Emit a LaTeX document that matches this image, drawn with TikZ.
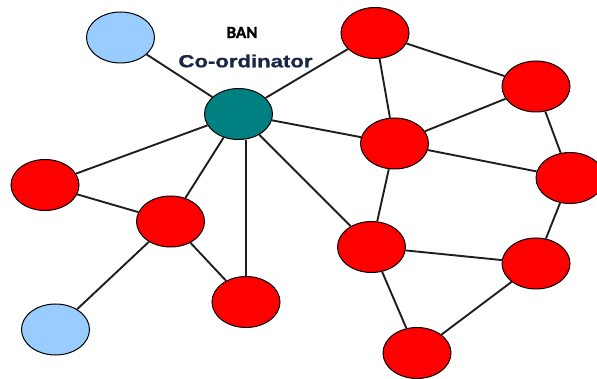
\documentclass[tikz,border=0pt]{standalone}
\usepackage{fontspec}
\usepackage{graphicx}
\setmainfont{Liberation Sans}
\newfontfamily\calfont{Carlito}[BoldFeatures={FakeBold=1.5}]
\newfontfamily\labelfont{Liberation Sans}[BoldFeatures={FakeBold=1}]
\usetikzlibrary{shapes.geometric}
\definecolor{nodered}{RGB}{255,0,0}
\definecolor{nodeblue}{RGB}{153,204,255}
\definecolor{nodeteal}{RGB}{0,128,128}
\definecolor{linkgray}{RGB}{30,30,30}
\definecolor{labelnavy}{RGB}{25,38,72}
\tikzset{
  sensor/.style={ellipse, draw=black, line width=1pt, inner sep=0pt,
    minimum width=68pt, minimum height=51pt},
  rednode/.style={sensor, fill=nodered},
  bluenode/.style={sensor, fill=nodeblue},
  coordnode/.style={sensor, fill=nodeteal},
  link/.style={draw=linkgray, line width=1.9pt}
}
\begin{document}
\begin{tikzpicture}[x=1pt,y=-1pt]
\useasboundingbox (0,0) rectangle (597,379);

% body sensors
\node[bluenode]  (b1)  at (120.5,37.5) {};
\node[coordnode] (c)   at (238.5,114) {};
\node[rednode]   (r1)  at (375,33) {};
\node[rednode]   (r2)  at (536,86.5) {};
\node[rednode]   (r3)  at (394.5,143.5) {};
\node[rednode]   (r4)  at (570,178) {};
\node[rednode]   (r5)  at (45,185) {};
\node[rednode]   (r6)  at (170.5,221.5) {};
\node[rednode]   (r7)  at (371.5,247) {};
\node[rednode]   (r8)  at (536,263.5) {};
\node[rednode]   (r9)  at (246,302) {};
\node[bluenode]  (b2)  at (55.5,329.5) {};
\node[rednode]   (r10) at (417,353) {};

% labels
\node[font=\calfont\bfseries\fontsize{17}{19}\selectfont] (ban) at (242,32.5) {BAN};
\node[text=labelnavy, inner sep=0pt] (coord) at (245.5,61)
  {\resizebox{134pt}{\height}{\labelfont\bfseries\fontsize{17.5}{19}\selectfont Co-ordinator}};

% links
\draw[link] (b1) -- (c);
\draw[link] (c) -- (r1);
\draw[link] (c) -- (r3);
\draw[link] (c) -- (r5);
\draw[link] (c) -- (r6);
\draw[link] (c.south -| r9) -- (r9);
\draw[link] (c) -- (r7);
\draw[link] (r1) -- (r2);
\draw[link] (r1) -- (r3);
\draw[link] (r2) -- (r3);
\draw[link] (r2) -- (r4);
\draw[link] (r3) -- (r4);
\draw[link] (r3) -- (r7);
\draw[link] (r5) -- (r6);
\draw[link] (r6) -- (b2);
\draw[link] (r6) -- (r9);
\draw[link] (r7) -- (r8);
\draw[link] (r7) -- (r10);
\draw[link] (r8) -- (r4);
\draw[link] (r8) -- (r10);
\end{tikzpicture}
\end{document}
